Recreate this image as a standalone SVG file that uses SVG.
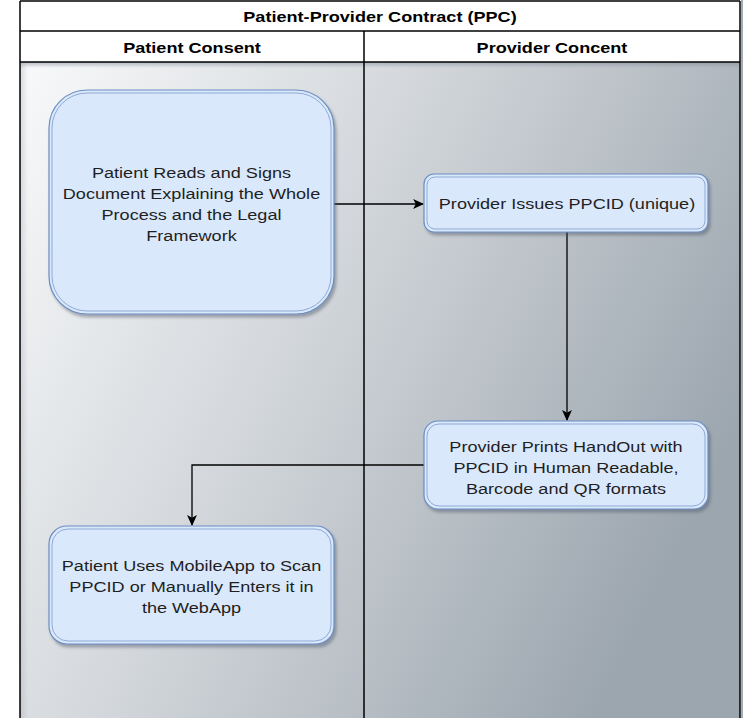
<svg xmlns="http://www.w3.org/2000/svg" width="743" height="718" viewBox="0 0 743 718">
  <defs>
    <linearGradient id="laneFill" gradientUnits="userSpaceOnUse" x1="20" y1="62" x2="740" y2="420">
      <stop offset="0" stop-color="#f8f9fa"/>
      <stop offset="0.45" stop-color="#d3d7db"/>
      <stop offset="1" stop-color="#9ca6af"/>
    </linearGradient>
    <linearGradient id="headShade" x1="0" y1="0" x2="0" y2="1">
      <stop offset="0" stop-color="#7d8896" stop-opacity="0.55"/>
      <stop offset="1" stop-color="#7d8896" stop-opacity="0"/>
    </linearGradient>
    <linearGradient id="sideShade" x1="0" y1="0" x2="1" y2="0">
      <stop offset="0" stop-color="#9aa3ad" stop-opacity="0.35"/>
      <stop offset="1" stop-color="#9aa3ad" stop-opacity="0"/>
    </linearGradient>
    <filter id="shadow" x="-10%" y="-10%" width="125%" height="130%">
      <feDropShadow dx="2" dy="3" stdDeviation="1.5" flood-color="#4a5566" flood-opacity="0.45"/>
    </filter>
    <marker id="arrow" viewBox="0 0 10 10" refX="9" refY="5" markerWidth="11" markerHeight="11" markerUnits="userSpaceOnUse" orient="auto">
      <path d="M0,0.5 L10,5 L0,9.5 L2.5,5 Z" fill="#000"/>
    </marker>
    <style>
      .title { font-family: "Liberation Sans", Arial, sans-serif; font-weight: bold; font-size: 15.4px; fill: #000; text-anchor: middle; }
      .label { font-family: "Liberation Sans", Arial, sans-serif; font-size: 15.4px; fill: #1f1f1f; text-anchor: middle; }
      .frame { fill: none; stroke: #000; stroke-width: 1.5; }
      .node-outer { fill: #dae8fc; stroke: #6c8ebf; stroke-width: 1.2; }
      .node-inner { fill: none; stroke: #8fa9d6; stroke-width: 1; }
      .edge { fill: none; stroke: #000; stroke-width: 1.3; }
    </style>
  </defs>

  <rect width="743" height="718" fill="#ffffff"/>

  <!-- pool and lanes -->
  <g id="pool">
    <rect x="20" y="62" width="720" height="656" fill="url(#laneFill)"/>
    <rect x="20" y="62" width="720" height="6" fill="url(#headShade)"/>
    <rect x="20" y="62" width="8" height="656" fill="url(#sideShade)"/>
    <rect x="741" y="0" width="2" height="718" fill="#a3acb5"/>
    <rect x="20" y="1" width="720" height="61" fill="#ffffff"/>
    <line class="frame" x1="20" y1="1" x2="740" y2="1"/>
    <line class="frame" x1="20" y1="1" x2="20" y2="718"/>
    <line class="frame" x1="740" y1="1" x2="740" y2="718"/>
    <line class="frame" x1="20" y1="31" x2="740" y2="31"/>
    <line class="frame" x1="20" y1="62" x2="740" y2="62"/>
    <line class="frame" x1="364" y1="31" x2="364" y2="718"/>
    <text class="title" transform="matrix(1.175 0 0 1 380 21.5)">Patient-Provider Contract (PPC)</text>
    <text class="title" transform="matrix(1.175 0 0 1 192 52.5)">Patient Consent</text>
    <text class="title" transform="matrix(1.175 0 0 1 552 52.5)">Provider Concent</text>
  </g>

  <!-- connectors -->
  <g id="connectors">
    <path class="edge" d="M334,204 L423,204" marker-end="url(#arrow)"/>
    <path class="edge" d="M567,232 L567,420" marker-end="url(#arrow)"/>
    <path class="edge" d="M424,465 L192,465 L192,525" marker-end="url(#arrow)"/>
  </g>

  <!-- nodes -->
  <g id="node-patient-signs">
    <rect class="node-outer" x="49" y="90" width="285" height="224" rx="38" filter="url(#shadow)"/>
    <rect class="node-inner" x="52" y="93" width="279" height="218" rx="35"/>
    <text class="label" transform="matrix(1.175 0 0 1 191.5 178)">Patient Reads and Signs</text>
    <text class="label" transform="matrix(1.175 0 0 1 191.5 199)">Document Explaining the Whole</text>
    <text class="label" transform="matrix(1.175 0 0 1 191.5 220)">Process and the Legal</text>
    <text class="label" transform="matrix(1.175 0 0 1 191.5 241)">Framework</text>
  </g>

  <g id="node-issue-ppcid">
    <rect class="node-outer" x="424" y="174" width="284" height="58" rx="10" filter="url(#shadow)"/>
    <rect class="node-inner" x="427" y="177" width="278" height="52" rx="8"/>
    <text class="label" transform="matrix(1.175 0 0 1 567 209)">Provider Issues PPCID (unique)</text>
  </g>

  <g id="node-print-handout">
    <rect class="node-outer" x="424" y="421" width="284" height="88" rx="14" filter="url(#shadow)"/>
    <rect class="node-inner" x="427" y="424" width="278" height="82" rx="12"/>
    <text class="label" transform="matrix(1.175 0 0 1 566 452)">Provider Prints HandOut with</text>
    <text class="label" transform="matrix(1.175 0 0 1 566 473)">PPCID in Human Readable,</text>
    <text class="label" transform="matrix(1.175 0 0 1 566 494)">Barcode and QR formats</text>
  </g>

  <g id="node-patient-scan">
    <rect class="node-outer" x="49" y="526" width="285" height="118" rx="18" filter="url(#shadow)"/>
    <rect class="node-inner" x="52" y="529" width="279" height="112" rx="16"/>
    <text class="label" transform="matrix(1.175 0 0 1 191.5 571)">Patient Uses MobileApp to Scan</text>
    <text class="label" transform="matrix(1.175 0 0 1 191.5 592)">PPCID or Manually Enters it in</text>
    <text class="label" transform="matrix(1.175 0 0 1 191.5 613)">the WebApp</text>
  </g>
</svg>
